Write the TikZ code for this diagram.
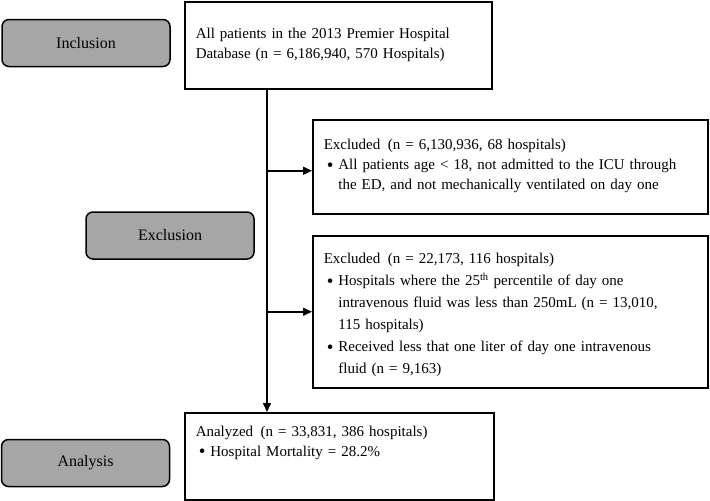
\documentclass[tikz,border=0pt]{standalone}
\usepackage{fontspec}
\setmainfont{Liberation Serif}
\usetikzlibrary{arrows.meta}
\definecolor{stagegray}{HTML}{A6A6A6}

\newcommand{\bul}[2]{\hspace*{3pt}\raisebox{-1.5pt}{\fontsize{19}{19}\selectfont\textbullet}\hspace{5pt}\parbox[t]{#1}{\strut #2}}

\tikzset{
  stage/.style={draw, line width=1.5pt, rounded corners=7pt, fill=stagegray,
    minimum width=168pt, minimum height=47pt, font=\fontsize{16}{18}\selectfont},
  info/.style={draw, line width=1.5pt, anchor=north west, align=left,
    inner xsep=11pt, font=\fontsize{15}{20}\selectfont},
  flow/.style={line width=1.5pt, -{Triangle[length=9pt, width=8pt]}}
}

\begin{document}
\begin{tikzpicture}[x=1pt, y=-1pt]
  \useasboundingbox (0,0) rectangle (710,501);

  % stage labels on the left
  \node[stage] (incl) at (86, 43) {Inclusion};
  \node[stage] (excl) at (170, 235.5) {Exclusion};
  \node[stage] (anal) at (85.5, 463) {Analysis};

  % flow boxes
  \node[info, text width=285pt, minimum height=87pt] (all) at (184, 1)
    {All patients in the 2013 Premier Hospital\\
     Database (n = 6,186,940, 570 Hospitals)};
  \node[info, text width=373pt, minimum height=94pt, text depth=44pt] (ex1) at (312, 119)
    {Excluded\,\ (n = 6,130,936, 68 hospitals)\\
     \bul{350pt}{All patients age < 18, not admitted to the ICU through\\
       the ED, and not mechanically ventilated on day one}};
  \node[info, text width=373pt, minimum height=152pt, text depth=106pt,
    font=\fontsize{15}{22}\selectfont] (ex2) at (312, 235)
    {Excluded\,\ (n = 22,173, 116 hospitals)\\
     \bul{350pt}{Hospitals where the 25\textsuperscript{th} percentile of day one\\
       intravenous fluid was less than 250mL (n = 13,010,\\
       115 hospitals)\strut}\\[-1pt]
     \bul{350pt}{Received less that one liter of day one intravenous\\
       fluid (n = 9,163)}};
  \node[info, text width=287pt, minimum height=87pt, text depth=50pt,
    font=\fontsize{15}{18}\selectfont] (ana) at (184, 412)
    {Analyzed\,\ (n = 33,831, 386 hospitals)\\[2pt]
     \bul{260pt}{Hospital Mortality = 28.2\%}};

  % connectors
  \coordinate (trunk) at (267, 250);
  \draw[flow] (all.south -| trunk) -- (trunk |- ana.north);
  \draw[flow] ([yshift=-4pt]ex1.west -| trunk) -- ([yshift=-4pt]ex1.west);
  \draw[flow] (ex2.west -| trunk) -- (ex2.west);
\end{tikzpicture}
\end{document}
